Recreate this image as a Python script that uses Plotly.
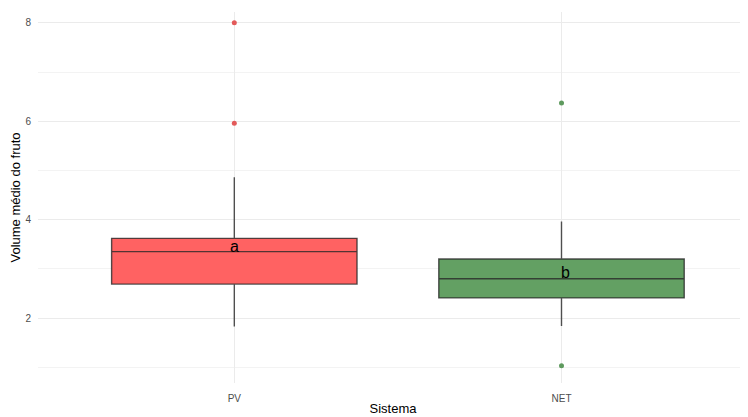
import plotly.graph_objects as go

categories = ["PV", "NET"]
q1 = [2.69, 2.41]
median = [3.35, 2.80]
q3 = [3.62, 3.20]
lower_whisker = [1.83, 1.84]
upper_whisker = [4.86, 3.96]
outliers = [[5.96, 8.0], [6.37, 1.03]]
letters = ["a", "b"]
letter_y = [3.45, 2.93]
letter_shift = [0, 4]

fills = ["rgba(255,98,98,1)", "rgba(99,160,99,1)"]
point_colors = ["#E35A5A", "#5E9A5E"]

fig = go.Figure()
for i, cat in enumerate(categories):
    fig.add_trace(go.Box(
        x=[cat], q1=[q1[i]], median=[median[i]], q3=[q3[i]],
        lowerfence=[lower_whisker[i]], upperfence=[upper_whisker[i]],
        fillcolor=fills[i], line=dict(color="rgba(40,40,40,0.8)", width=1.4),
        whiskerwidth=0, width=0.75, boxpoints=False, showlegend=False,
        hoverinfo="skip",
    ))
    fig.add_trace(go.Scatter(
        x=[cat] * len(outliers[i]), y=outliers[i], mode="markers",
        marker=dict(color=point_colors[i], size=5), showlegend=False,
    ))
    fig.add_annotation(
        x=cat, y=letter_y[i], text=letters[i], showarrow=False,
        xshift=letter_shift[i],
        font=dict(size=16, color="black", family="Liberation Sans"),
    )

# page body has an 8px default margin, so the figure is sized to fit the window
fig.update_layout(
    width=740, height=409,
    margin=dict(l=30, r=0, t=4, b=34),
    paper_bgcolor="white", plot_bgcolor="white",
    font=dict(family="Liberation Sans", color="#4D4D4D"),
    boxmode="overlay",
)
fig.update_xaxes(
    type="category", categoryorder="array", categoryarray=categories,
    range=[-0.6, 1.57], showgrid=True, gridcolor="#EBEBEB", gridwidth=1.2,
    zeroline=False, showline=False, ticks="", ticklabelstandoff=8,
    tickfont=dict(size=10, color="#4D4D4D"), automargin=False,
    title=dict(text="Sistema", font=dict(size=13, color="black"), standoff=0),
)
fig.update_yaxes(
    range=[0.68, 8.22], tickvals=[2, 4, 6, 8], showgrid=True,
    gridcolor="#EBEBEB", gridwidth=1.2,
    minor=dict(tickvals=[1, 3, 5, 7], showgrid=True, gridcolor="#F3F3F3", gridwidth=1),
    zeroline=False, showline=False, ticks="", ticklabelstandoff=6,
    tickfont=dict(size=10, color="#4D4D4D"), automargin=False,
    title=dict(text="Volume médio do fruto", font=dict(size=13, color="black"), standoff=1),
)

fig.write_html("out.html")
